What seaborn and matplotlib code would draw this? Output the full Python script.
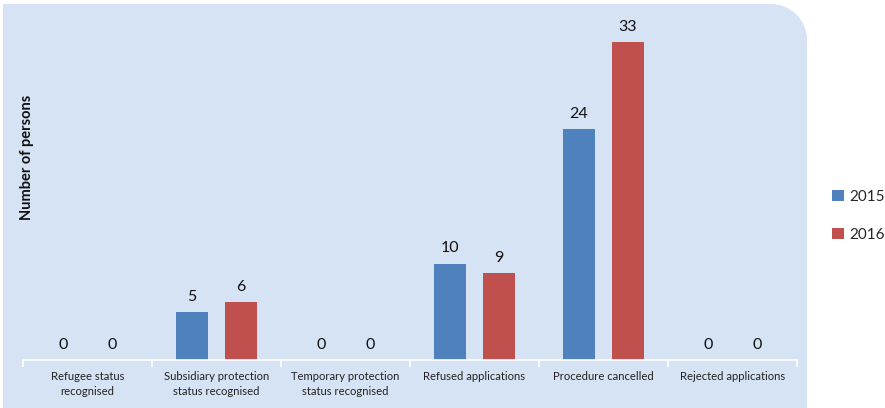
import matplotlib
matplotlib.use("Agg")
import matplotlib.pyplot as plt
from matplotlib.path import Path
from matplotlib.patches import PathPatch, Patch
from matplotlib.transforms import IdentityTransform
import seaborn as sns
import pandas as pd
import numpy as np

categories = ["Refugee status\nrecognised", "Subsidiary protection\nstatus recognised",
              "Temporary protection\nstatus recognised", "Refused applications",
              "Procedure cancelled", "Rejected applications"]
years = ["2015", "2016"]
values_2015 = [0, 5, 0, 10, 24, 0]
values_2016 = [0, 6, 0, 9, 33, 0]

df = pd.DataFrame({
    "category": categories * 2,
    "year": [years[0]] * len(categories) + [years[1]] * len(categories),
    "value": values_2015 + values_2016,
})

sns.set_theme(style="white")
plt.rcParams["font.family"] = ["Lato", "DejaVu Sans"]

W, H = 885, 408
fig = plt.figure(figsize=(W / 100, H / 100), dpi=100)
fig.patch.set_facecolor("white")

# background panel with rounded top-right corner (pixel coords)
x0, x1 = 3, 807
ytop = H - 4
ybot = -2
r = 36
k = 0.5523 * r
verts = [
    (x0, ybot), (x0, ytop), (x1 - r, ytop),
    (x1 - r + k, ytop), (x1, ytop - r + k), (x1, ytop - r),
    (x1, ybot), (x0, ybot),
]
codes = [Path.MOVETO, Path.LINETO, Path.LINETO,
         Path.CURVE4, Path.CURVE4, Path.CURVE4,
         Path.LINETO, Path.CLOSEPOLY]
panel = PathPatch(Path(verts, codes), facecolor="#D6E3F4", edgecolor="none",
                  transform=IdentityTransform(), zorder=-10)
fig.patches.append(panel)

ax = fig.add_axes([23 / W, (H - 360) / H, (797 - 23) / W, (360 - 23) / H])
ax.set_facecolor("none")
ax.set_zorder(1)

palette = {"2015": "#4F81BD", "2016": "#C0504D"}
sns.barplot(data=df, x="category", y="value", hue="year", palette=palette,
            width=0.76, gap=0.35, saturation=1, linewidth=0, ax=ax, legend=False)

ax.set_ylim(0, 35)
ax.set_xlim(-0.5, len(categories) - 0.5)
ax.set_yticks([])
ax.set_xlabel("")
ax.set_ylabel("")
for s in ["top", "right", "left"]:
    ax.spines[s].set_visible(False)
ax.spines["bottom"].set_color("white")
ax.spines["bottom"].set_linewidth(1.2)

ax.set_xticks(np.arange(len(categories)))
ax.set_xticklabels(categories, fontsize=8.1, color="#222222", linespacing=1.4)
ax.tick_params(axis="x", which="major", length=0, pad=8, bottom=True)
ax.set_xticks(np.arange(-0.5, len(categories)), minor=True)
ax.tick_params(axis="x", which="minor", length=5, width=1.2, color="white",
               direction="out", bottom=True)

for cont in ax.containers:
    ax.bar_label(cont, fmt="%d", padding=6, fontsize=11.5, color="#111111")

fig.text(27 / W, 1 - 157 / H, "Number of persons", rotation=90, ha="center",
         va="center", fontsize=10.5, fontweight="bold", color="#111111")

handles = [Patch(facecolor=palette[y], edgecolor="none", label=y) for y in years]
fig.legend(handles=handles, loc="center left", bbox_to_anchor=(826 / W, 1 - 216 / H),
           frameon=False, fontsize=11, handlelength=0.75, handleheight=0.75,
           handletextpad=0.4, labelspacing=1.6, borderaxespad=0)

fig.savefig("out.png", dpi=100)
